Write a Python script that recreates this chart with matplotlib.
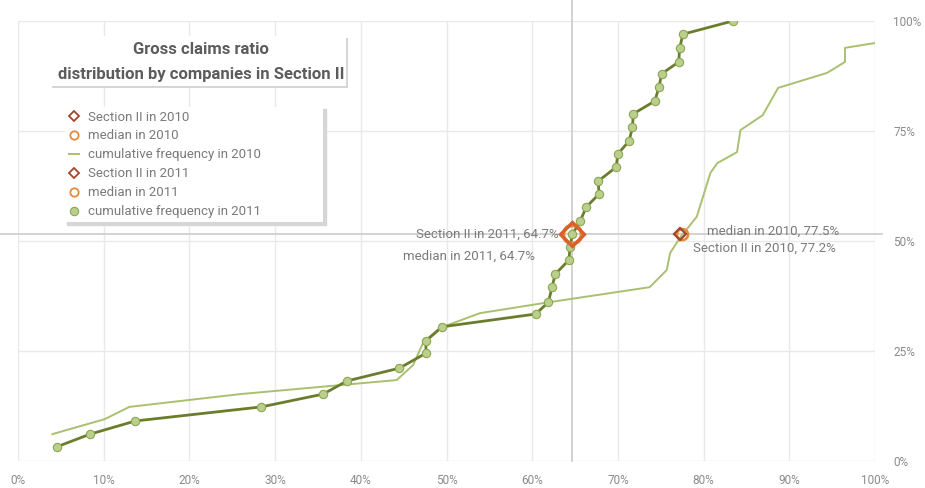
import matplotlib
matplotlib.use("Agg")
import matplotlib.pyplot as plt
from matplotlib.lines import Line2D
from matplotlib.patches import Rectangle

# Gross claims ratio per company (sorted) and cumulative share of companies, %
ratio_2011 = [4.5, 8.4, 13.7, 28.4, 35.6, 38.4, 44.5, 47.6, 47.6, 49.5, 60.4,
              61.9, 62.3, 62.7, 64.3, 64.4, 64.7, 65.6, 66.3, 67.8, 67.7, 69.8,
              70.0, 71.3, 71.7, 71.8, 74.3, 74.8, 75.1, 77.1, 77.2, 77.6, 83.4]
cumfreq_2011 = [3.2, 6.1, 9.1, 12.3, 15.2, 18.2, 21.1, 24.5, 27.3, 30.5, 33.4,
                36.1, 39.5, 42.5, 45.7, 48.6, 51.6, 54.5, 57.7, 60.7, 63.6, 66.8,
                69.8, 72.7, 75.9, 78.9, 81.8, 85.0, 88.0, 90.7, 93.9, 97.0, 100.0]

ratio_2010 = [4.0, 10.1, 13.0, 25.9, 44.2, 46.1, 47.3, 49.2, 53.9, 62.0, 73.7,
              75.7, 76.1, 77.3, 79.2, 80.8, 81.6, 83.9, 84.3, 86.9, 88.7, 94.4,
              96.5, 96.5, 100.0, 117.0]
cumfreq_2010 = [6.1, 9.5, 12.3, 15.2, 18.4, 21.8, 27.0, 30.2, 33.6, 36.1, 39.5,
                43.4, 47.3, 50.9, 55.5, 65.5, 67.7, 70.2, 75.2, 78.6, 84.8, 88.2,
                90.7, 93.9, 95.0, 100.0]

section_2010 = (77.2, 51.5)
median_2010 = (77.5, 51.5)
section_2011 = (64.7, 51.6)
median_2011 = (64.7, 51.6)

x_ticks = [0, 10, 20, 30, 40, 50, 60, 70, 80, 90, 100]
x_tick_labels = ["0%", "10%", "20%", "30%", "40%", "50%", "60%", "70%", "80%", "90%", "100%"]
y_ticks = [0, 25, 50, 75, 100]
y_tick_labels = ["0%", "25%", "50%", "75%", "100%"]

title_lines = ["Gross claims ratio", "distribution by companies in Section II"]

FONT = ["Roboto", "DejaVu Sans"]
plt.rcParams["font.family"] = FONT

C_2011_LINE = "#6b7d2c"
C_2011_FACE = "#b9d08c"
C_2011_EDGE = "#8ea552"
C_2010_LINE = "#a9c070"
C_SECTION = "#a3442c"
C_MEDIAN = "#e8883a"
C_TEXT = "#7a7a7a"
C_GRID = "#e9e9e9"
C_CROSS = "#cfcfcf"

fig = plt.figure(figsize=(9.25, 4.88), dpi=100)
ax = fig.add_axes([18 / 925, 27 / 488, (875 - 18) / 925, (461 - 21) / 488])
ax.set_xlim(0, 100)
ax.set_ylim(0, 100)

for s in ax.spines.values():
    s.set_visible(False)
ax.set_xticks(x_ticks)
ax.set_xticklabels(x_tick_labels)
ax.set_yticks(y_ticks)
ax.set_yticklabels(y_tick_labels)
ax.yaxis.tick_right()
ax.tick_params(axis="both", length=0, labelsize=8.5, labelcolor="#8a8a8a")
ax.tick_params(axis="x", pad=9)
ax.tick_params(axis="y", pad=13)
ax.grid(True, color=C_GRID, linewidth=1.0)
ax.set_axisbelow(True)

# crosshair through the Section II 2011 point
ax.plot([-2.2, 100.8], [section_2011[1]] * 2, color=C_CROSS, lw=1.3,
        clip_on=False, zorder=1)
ax.plot([section_2011[0]] * 2, [0, 104.8], color=C_CROSS, lw=1.3,
        clip_on=False, zorder=1)

ax.plot(ratio_2010, cumfreq_2010, color=C_2010_LINE, lw=1.4, zorder=2)
ax.plot(ratio_2011, cumfreq_2011, color=C_2011_LINE, lw=2.0, zorder=3,
        marker="o", markersize=6, markerfacecolor=C_2011_FACE,
        markeredgecolor=C_2011_EDGE, markeredgewidth=0.8)

ax.plot(*median_2010, marker="o", ms=8, mfc="none", mec=C_MEDIAN, mew=1.8, zorder=5)
ax.plot(*section_2010, marker="D", ms=6.5, mfc="none", mec=C_SECTION, mew=1.6, zorder=6)
ax.plot(*median_2011, marker="o", ms=13, mfc="none", mec=C_MEDIAN, mew=2.6, zorder=5)
ax.plot(*section_2011, marker="D", ms=12, mfc="none", mec="#d8602c", mew=2.4, zorder=6)

txt = dict(fontsize=9.5, color=C_TEXT, textcoords="offset points")
ax.annotate(f"Section II in 2011, {section_2011[0]}%", section_2011,
            xytext=(-10, 0), ha="right", va="center", **txt)
ax.annotate(f"median in 2011, {median_2011[0]}%", median_2011,
            xytext=(-27, -16), ha="right", va="center", **txt)
ax.annotate(f"median in 2010, {median_2010[0]}%", median_2010,
            xytext=(18, 2), ha="left", va="center", **txt)
ax.annotate(f"Section II in 2010, {section_2010[0]}%", section_2010,
            xytext=(10, -10), ha="left", va="center", **txt)

# title box with a soft shadow on the right and bottom
shadow = "#d6d6d6"
fig.patches.append(Rectangle((52 / 925, 1 - 88 / 488), 296 / 925, 50 / 488,
                             transform=fig.transFigure, facecolor=shadow,
                             edgecolor="none", zorder=8))
fig.patches.append(Rectangle((50 / 925, 1 - 86 / 488), 296 / 925, 50 / 488,
                             transform=fig.transFigure, facecolor="white",
                             edgecolor="none", zorder=9))
fig.text(201 / 925, 1 - 49 / 488, title_lines[0], ha="center", va="center",
         fontsize=12, fontweight="bold", color="#5c5c5c", zorder=10)
fig.text(201 / 925, 1 - 74 / 488, "\n".join(title_lines[1:]), ha="center",
         va="center", fontsize=12, fontweight="bold", color="#5c5c5c", zorder=10)

handles = [
    Line2D([], [], ls="none", marker="D", ms=5, mfc="none", mec=C_SECTION, mew=1.3),
    Line2D([], [], ls="none", marker="o", ms=6, mfc="none", mec=C_MEDIAN, mew=1.3),
    Line2D([], [], color=C_2010_LINE, lw=1.4),
    Line2D([], [], ls="none", marker="D", ms=5, mfc="none", mec=C_SECTION, mew=1.3),
    Line2D([], [], ls="none", marker="o", ms=6, mfc="none", mec=C_MEDIAN, mew=1.3),
    Line2D([], [], ls="none", marker="o", ms=6, mfc=C_2011_FACE, mec=C_2011_EDGE, mew=0.8),
]
labels = ["Section II in 2010", "median in 2010", "cumulative frequency in 2010",
          "Section II in 2011", "median in 2011", "cumulative frequency in 2011"]
leg = fig.legend(handles, labels, loc="upper left",
                 bbox_to_anchor=(58 / 925, 1 - 100 / 488, 272 / 925, 0),
                 mode="expand", frameon=True,
                 fontsize=9.5, labelcolor=C_TEXT, handlelength=0.8,
                 handletextpad=0.7, labelspacing=0.45, borderpad=0.3,
                 fancybox=False, shadow={"color": shadow, "alpha": 1, "ox": 2, "oy": -2})
leg.get_frame().set_edgecolor("none")
leg.get_frame().set_facecolor("white")
leg.set_zorder(10)

fig.savefig("out.png", dpi=100)
